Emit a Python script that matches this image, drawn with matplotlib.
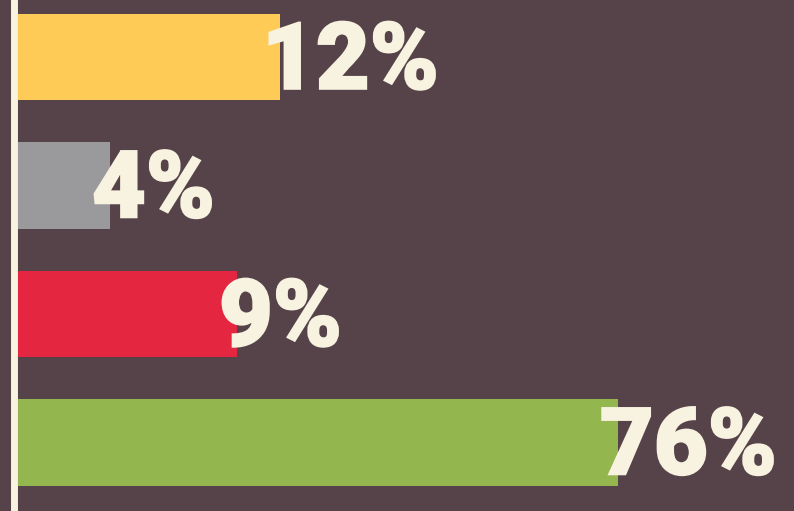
import matplotlib
matplotlib.use("Agg")
import matplotlib.pyplot as plt
import matplotlib.patheffects as pe

# values shown on the labels
labels = ["12%", "4%", "9%", "76%"]
# bar lengths as drawn (not proportional to the labels)
lengths = [262, 92, 219, 600]
colors = ["#FECB57", "#9A999B", "#E42641", "#93B74E"]

bg = "#554349"
cream = "#F8F2E0"

fig = plt.figure(figsize=(7.94, 5.11), dpi=100, facecolor=bg)
ax = fig.add_axes([0, 0, 1, 1])
ax.set_facecolor(bg)

pos = list(range(len(labels)))
ax.barh(pos, lengths, height=0.67, color=colors, left=0)

#label sits slightly over the bar end, thin stroke makes it heavier
for p, L, t in zip(pos, lengths, labels):
    ax.annotate(t, (L, p), xytext=(-13, 2), textcoords="offset points",
                ha="left", va="center_baseline", fontsize=67, color=cream,
                family="Roboto", fontweight="black",
                path_effects=[pe.withStroke(linewidth=1.5, foreground=cream,
                                            joinstyle="miter")])

ax.axvline(-4, color=cream, lw=5)
ax.set_xlim(-18, 776)
ax.set_ylim(3.533, -0.444)
ax.axis("off")

fig.savefig("out.png", dpi=100, facecolor=bg)
